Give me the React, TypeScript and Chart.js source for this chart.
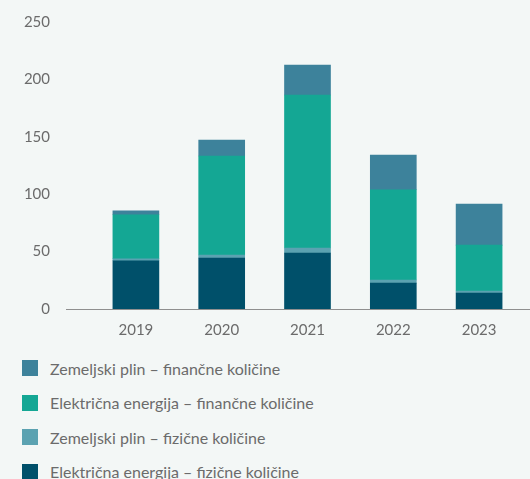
import React, { useEffect, useRef } from "react";
import { Chart, registerables } from "chart.js";

Chart.register(...registerables);

const categories = ["2019", "2020", "2021", "2022", "2023"];
const elecPhysical = [42, 44.4, 48.8, 22.6, 13.9];
const gasPhysical = [1.8, 2.6, 4.3, 2.7, 1.8];
const elecFinancial = [38.3, 86.3, 133.3, 78.6, 40];
const gasFinancial = [3.5, 13.9, 26.1, 30.2, 35.8];
const yTicks = [0, 50, 100, 150, 200, 250];

const seriesNames = [
  "Električna energija – fizične količine",
  "Zemeljski plin – fizične količine",
  "Električna energija – finančne količine",
  "Zemeljski plin – finančne količine",
];
const seriesColors = ["#00506a", "#5ba2b1", "#14a794", "#3d829b"];
const seriesData = [elecPhysical, gasPhysical, elecFinancial, gasFinancial];

const BG = "#f3f7f6";
const TEXT = "#6b6b6b";
const FONT = "Lato, 'Open Sans', sans-serif";

const axisLinePlugin = {
  id: "axisLine",
  afterDatasetsDraw(chart: any) {
    const { ctx, chartArea, scales } = chart;
    const y = Math.round(scales.y.getPixelForValue(0)) + 0.5;
    ctx.save();
    ctx.strokeStyle = "#8f8f8f";
    ctx.lineWidth = 1;
    ctx.beginPath();
    ctx.moveTo(chartArea.left - 27, y);
    ctx.lineTo(chart.width, y);
    ctx.stroke();
    ctx.restore();
  },
};

export default function App() {
  const ref = useRef<HTMLCanvasElement>(null);

  useEffect(() => {
    document.body.style.margin = "0";
    document.body.style.background = BG;
    const chart = new Chart(ref.current as HTMLCanvasElement, {
      type: "bar",
      data: {
        labels: categories,
        datasets: seriesData.map((d, i) => ({
          label: seriesNames[i],
          data: d,
          backgroundColor: seriesColors[i],
          borderWidth: 0,
          barThickness: 46,
        })),
      },
      options: {
        animation: false,
        responsive: false,
        layout: { padding: { left: 22, right: 8, top: 22, bottom: 0 } },
        plugins: { legend: { display: false }, tooltip: { enabled: false } },
        scales: {
          x: {
            stacked: true,
            grid: { display: false, drawTicks: false },
            border: { display: false },
            ticks: { color: TEXT, font: { family: FONT, size: 15 }, padding: 12 },
            afterFit: (axis: any) => {
              axis.height = 31;
            },
          },
          y: {
            stacked: true,
            min: 0,
            max: 250,
            afterBuildTicks: (axis: any) => {
              axis.ticks = yTicks.map((v) => ({ value: v }));
            },
            grid: { display: false, drawTicks: false },
            border: { display: false },
            ticks: { color: TEXT, font: { family: FONT, size: 15 }, padding: 43 },
            afterFit: (axis: any) => {
              axis.width = 71;
              axis.paddingTop = 0;
              axis.paddingBottom = 0;
            },
          },
        },
      },
      plugins: [axisLinePlugin],
    });
    return () => chart.destroy();
  }, []);

  const legendOrder = [3, 2, 1, 0];

  return (
    <div style={{ position: "relative", width: 530, height: 479, background: BG, overflow: "hidden" }}>
      <canvas ref={ref} width={530} height={340} style={{ display: "block" }} />
      <div style={{ position: "absolute", left: 22, top: 351 }}>
        {legendOrder.map((i) => (
          <div key={i} style={{ display: "flex", alignItems: "center", height: 34.5, fontFamily: FONT, fontSize: 16, color: TEXT }}>
            <span style={{ display: "inline-block", width: 16, height: 16, background: seriesColors[i], marginRight: 12 }} />
            <span>{seriesNames[i]}</span>
          </div>
        ))}
      </div>
    </div>
  );
}
